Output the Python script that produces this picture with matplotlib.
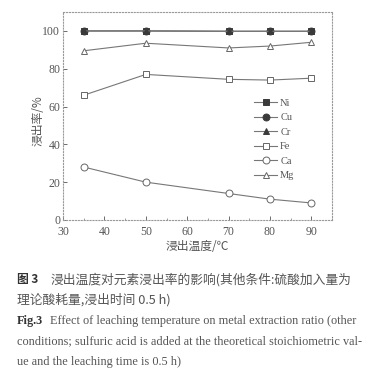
import matplotlib
matplotlib.use("Agg")
import matplotlib.pyplot as plt
from matplotlib.ticker import MultipleLocator

plt.rcParams['font.family'] = ['Liberation Serif', 'Noto Sans CJK SC']

temps = [35, 50, 70, 80, 90]
ni = [100, 100, 99.8, 99.8, 99.8]
cu = [100, 100, 99.8, 99.8, 99.8]
cr = [100, 100, 99.8, 99.8, 99.8]
fe = [66, 77, 74.4, 74, 75]
ca = [28, 20, 14, 11, 9]
mg = [89.5, 93.5, 91, 92, 94]

names = ['Ni', 'Cu', 'Cr', 'Fe', 'Ca', 'Mg']
series = [ni, cu, cr, fe, ca, mg]
markers = ['s', 'o', '^', 's', 'o', '^']
fills = [True, True, True, False, False, False]

xticks = [30, 40, 50, 60, 70, 80, 90]
yticks = [0, 20, 40, 60, 80, 100]

col = '#3a3a3a'
fig = plt.figure(figsize=(3.71, 3.76), dpi=100)
ax = fig.add_axes([0.170, 0.415, 0.725, 0.553])
for name, vals, m, f in zip(names, series, markers, fills):
    ax.plot(temps, vals, color='#777777', lw=0.8, marker=m, ms=5,
            mfc=col if f else 'white', mec=col if f else '#666666', mew=0.7,
            label=name)
ax.set_xlim(30, 95)
ax.set_ylim(0, 110)
ax.set_xticks(xticks)
ax.set_yticks(yticks)
ax.xaxis.set_minor_locator(MultipleLocator(5))
ax.tick_params(direction='in', labelsize=8.5, colors='#555555', length=3, width=0.6, pad=2)
ax.tick_params(axis='x', pad=4)
ax.tick_params(which='minor', direction='in', length=1.5, width=0.5, colors='#777777')
for s in ax.spines.values():
    s.set_color('#999999')
    s.set_linestyle(':')
    s.set_linewidth(0.8)
ax.set_xlabel('浸出温度/℃', fontsize=8.5, color='#555555', family=['Noto Sans CJK SC'], labelpad=2)
ax.set_ylabel('浸出率/%', fontsize=8.5, color='#555555', family=['Noto Sans CJK SC'], labelpad=0)
ax.yaxis.set_label_coords(-0.07, 0.48)
leg = ax.legend(loc='center left', bbox_to_anchor=(0.695, 0.388), frameon=False, fontsize=7.5,
                handlelength=2.2, handletextpad=0.3, labelspacing=0.5, borderaxespad=0)
for t in leg.get_texts():
    t.set_color('#555555')

tc = '#555555'
H = 376.0
def fy(px):
    return 1 - px / H

cjk = ['Noto Sans CJK SC']
fig.text(0.046, fy(280), '图 3', fontsize=8.5, color='#333333', weight='bold', family=cjk, va='center')
fig.text(0.135, fy(280), '浸出温度对元素浸出率的影响(其他条件:硫酸加入量为', fontsize=9.2, color=tc, family=cjk, va='center')
fig.text(0.046, fy(300), '理论酸耗量,浸出时间 0.5 h)', fontsize=9.2, color=tc, family=cjk, va='center')
fig.text(0.046, fy(321), 'Fig.3', fontsize=8.8, color='#333333', weight='bold', va='center')
fig.text(0.135, fy(321), 'Effect of leaching temperature on metal extraction ratio (other', fontsize=8.8, color=tc, va='center')
fig.text(0.046, fy(341), 'conditions; sulfuric acid is added at the theoretical stoichiometric val-', fontsize=8.8, color=tc, va='center')
fig.text(0.046, fy(362), 'ue and the leaching time is 0.5 h)', fontsize=8.8, color=tc, va='center')

fig.savefig('out.png', dpi=100)
